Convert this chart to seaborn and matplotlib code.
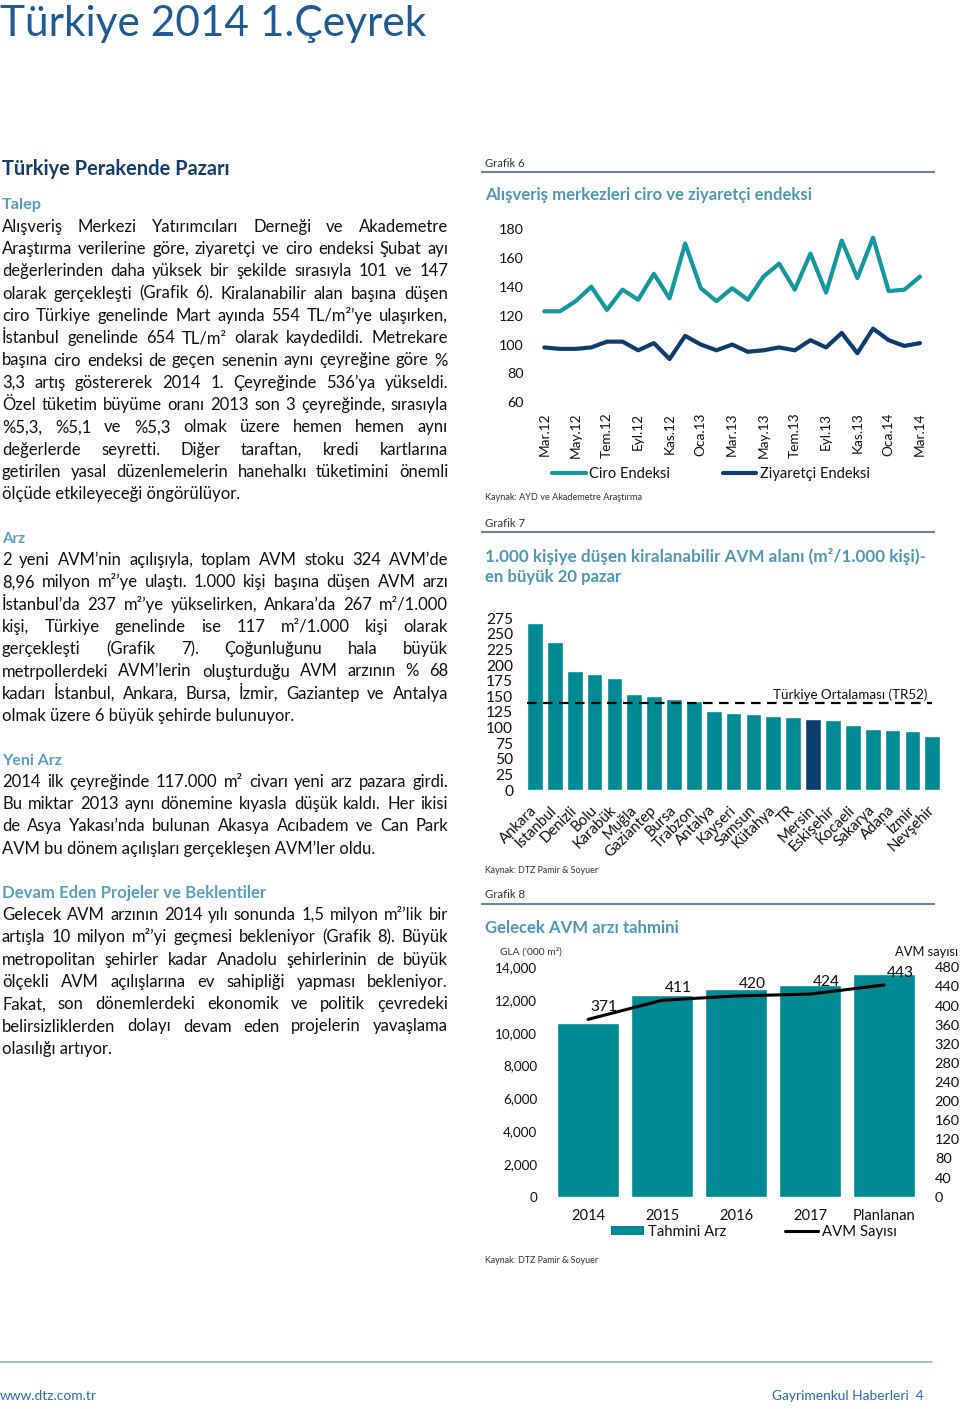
import matplotlib
matplotlib.use('Agg')
import matplotlib.pyplot as plt
from matplotlib import font_manager
from matplotlib.lines import Line2D
from matplotlib.patches import Patch
from matplotlib.ticker import FuncFormatter
import seaborn as sns
import pandas as pd

# ---------------- data ----------------
months = ["Mar.12", "Nis.12", "May.12", "Haz.12", "Tem.12", "Ağu.12", "Eyl.12", "Eki.12",
          "Kas.12", "Ara.12", "Oca.13", "Şub.13", "Mar.13", "Nis.13", "May.13", "Haz.13",
          "Tem.13", "Ağu.13", "Eyl.13", "Eki.13", "Kas.13", "Ara.13", "Oca.14", "Şub.14", "Mar.14"]
ciro = [123, 123, 130, 140, 124, 138, 131, 149, 132, 170, 139, 130, 139, 131, 147, 156,
        138, 163, 136, 172, 146, 174, 137, 138, 147]
ziyaretci = [98, 97, 97, 98, 102, 102, 96, 101, 90, 106, 100, 96, 100, 95, 96, 98,
             96, 103, 98, 108, 94, 111, 103, 99, 101]

cities = ["Ankara", "İstanbul", "Denizli", "Bolu", "Karabük", "Muğla", "Gaziantep", "Bursa",
          "Trabzon", "Antalya", "Kayseri", "Samsun", "Kütahya", "TR", "Mersin", "Eskişehir",
          "Kocaeli", "Sakarya", "Adana", "İzmir", "Nevşehir"]
area = [267, 237, 190, 186, 179, 154, 151, 146, 142, 126, 123, 121, 119, 117, 113, 112,
        104, 98, 96, 95, 86]
highlight_city = "Mersin"
tr_average = 140

years = ["2014", "2015", "2016", "2017", "Planlanan"]
gla = [10600, 12300, 12700, 12900, 13600]
avm_count = [371, 411, 420, 424, 443]

# ---------------- style ----------------
TEAL = "#008b94"
TEAL_L = "#14979d"
NAVY = "#0e3d6d"
NAVY_BAR = "#0b3c6e"
HEADER_C = "#1f5a94"
NAVY_T = "#173f6b"
SUB_C = "#5a9fc0"
TITLE_C = "#4f98b5"
GRAY = "#333333"
TXT = "#111111"

W, H = 960, 1409
sns.set_theme(style='white')
names = {f.name for f in font_manager.fontManager.ttflist}
BODY = 'Liberation Sans Narrow' if 'Liberation Sans Narrow' in names else 'Lato'
plt.rcParams['font.family'] = [BODY, 'DejaVu Sans']
plt.rcParams['text.color'] = TXT
plt.rcParams['xtick.color'] = TXT
plt.rcParams['ytick.color'] = TXT

fig = plt.figure(figsize=(W / 100, H / 100), dpi=100)
fig.patch.set_facecolor('white')
renderer = fig.canvas.get_renderer()


def fxy(x, y):
    return x / W, 1 - y / H


def twidth(s, size, **kw):
    t = fig.text(0, 0, s, fontsize=size, **kw)
    w = t.get_window_extent(renderer=renderer).width
    t.remove()
    return w


digits_w = twidth('0123456789', 10)
SC = max(0.93, (10 * 0.456 * 10 * 100 / 72) / digits_w)


def fs(n):
    return n * SC


def fit_text(x, y, s, width, maxsize, ha='left', **kw):
    size = min(maxsize, 10 * width / twidth(s, 10, **kw))
    return fig.text(*fxy(x, y), s, fontsize=size, ha=ha, va='baseline', **kw)


def hline(x0, x1, y, color, lw):
    fig.add_artist(Line2D([x0 / W, x1 / W], [1 - y / H, 1 - y / H],
                          transform=fig.transFigure, color=color, lw=lw))


# ---------------- left column text ----------------
p1 = ["Alışveriş Merkezi Yatırımcıları Derneği ve Akademetre",
      "Araştırma verilerine göre, ziyaretçi ve ciro endeksi Şubat ayı",
      "değerlerinden daha yüksek bir şekilde sırasıyla 101 ve 147",
      "olarak gerçekleşti (Grafik 6).  Kiralanabilir alan başına düşen",
      "ciro Türkiye genelinde Mart ayında 554 TL/m²’ye ulaşırken,",
      "İstanbul genelinde 654 TL/m² olarak kaydedildi.  Metrekare",
      "başına ciro endeksi de geçen senenin aynı çeyreğine göre %",
      "3,3 artış göstererek 2014 1. Çeyreğinde 536’ya yükseldi.",
      "Özel tüketim büyüme oranı 2013 son 3 çeyreğinde, sırasıyla",
      "%5,3, %5,1 ve %5,3 olmak üzere hemen hemen aynı",
      "değerlerde seyretti.  Diğer taraftan, kredi kartlarına",
      "getirilen yasal düzenlemelerin hanehalkı tüketimini önemli",
      "ölçüde etkileyeceği öngörülüyor."]
p2 = ["2 yeni AVM’nin açılışıyla, toplam AVM stoku 324 AVM’de",
      "8,96 milyon m²’ye ulaştı.  1.000 kişi başına düşen AVM arzı",
      "İstanbul’da 237 m²’ye yükselirken, Ankara’da 267 m²/1.000",
      "kişi, Türkiye genelinde ise 117 m²/1.000 kişi olarak",
      "gerçekleşti (Grafik 7).  Çoğunluğunu hala büyük",
      "metrpollerdeki AVM’lerin oluşturduğu AVM arzının % 68",
      "kadarı İstanbul, Ankara, Bursa, İzmir, Gaziantep ve Antalya",
      "olmak üzere 6 büyük şehirde bulunuyor."]
p3 = ["2014 ilk çeyreğinde 117.000 m² civarı yeni arz pazara girdi.",
      "Bu miktar 2013 aynı dönemine kıyasla düşük kaldı.  Her ikisi",
      "de Asya Yakası’nda bulunan Akasya Acıbadem ve Can Park",
      "AVM bu dönem açılışları gerçekleşen AVM’ler oldu."]
p4 = ["Gelecek AVM arzının 2014 yılı sonunda 1,5 milyon m²’lik bir",
      "artışla 10 milyon m²’yi geçmesi bekleniyor (Grafik 8).  Büyük",
      "metropolitan şehirler kadar Anadolu şehirlerinin de büyük",
      "ölçekli AVM açılışlarına ev sahipliği yapması bekleniyor.",
      "Fakat, son dönemlerdeki ekonomik ve politik çevredeki",
      "belirsizliklerden dolayı devam eden projelerin yavaşlama",
      "olasılığı artıyor."]
paras = [(p1, 231.7), (p2, 565.0), (p3, 786.7), (p4, 920.0)]
X0, X1, DY = 2, 448, 22.3

ratios = []
for lines, _ in paras:
    for line in lines[:-1]:
        ratios.append((X1 - X0) / twidth(' '.join(line.split()), 10))
bsize = min(12.0, 10 * min(ratios) * 0.99)

for lines, y0 in paras:
    for i, line in enumerate(lines):
        y = y0 + i * DY
        words = line.split()
        if i == len(lines) - 1:
            fig.text(*fxy(X0, y), ' '.join(words), fontsize=bsize, va='baseline', color=TXT)
            continue
        ws = [twidth(w, bsize) for w in words]
        gap = (X1 - X0 - sum(ws)) / (len(words) - 1)
        x = X0
        for w, wd in zip(words, ws):
            fig.text(*fxy(x, y), w, fontsize=bsize, va='baseline', color=TXT)
            x += wd + gap

fit_text(0, 36, "Türkiye 2014 1.Çeyrek", 428, 40, color=HEADER_C)
fit_text(2, 175, "Türkiye Perakende Pazarı", 228, 16, color=NAVY_T, weight='bold')
fit_text(2, 209.3, "Talep", 40, 13.5, color=SUB_C, weight='bold')
fit_text(2, 542.7, "Arz", 23, 13.5, color=SUB_C, weight='bold')
fit_text(2, 765, "Yeni Arz", 60, 13.5, color=SUB_C, weight='bold')
fit_text(2, 898.3, "Devam Eden Projeler ve Beklentiler", 266, 13.5, color=SUB_C, weight='bold')

# ---------------- right column headings ----------------
fit_text(485, 166.7, "Grafik 6", 40, 9.5, color=GRAY)
hline(482, 934, 172, "#6f8593", 1.5)
fit_text(485, 200, "Alışveriş merkezleri ciro ve ziyaretçi endeksi", 331, 13, color=TITLE_C, weight='bold')
fit_text(485, 500, "Kaynak: AYD ve Akademetre Araştırma", 157, 8, color=GRAY)

fit_text(485, 526.7, "Grafik 7", 40, 9.5, color=GRAY)
hline(482, 934, 531.7, "#6f8593", 1.5)
fit_text(485, 561.7, "1.000 kişiye düşen kiralanabilir AVM alanı (m²/1.000 kişi)-", 442, 13,
         color=TITLE_C, weight='bold')
fit_text(485, 581.7, "en büyük 20 pazar", 137, 13, color=TITLE_C, weight='bold')
fit_text(485, 873.3, "Kaynak: DTZ Pamir & Soyuer", 114, 8, color=GRAY)

fit_text(485, 898.3, "Grafik 8", 40, 9.5, color=GRAY)
hline(482, 934, 904, "#6f8593", 1.5)
fit_text(485, 933.3, "Gelecek AVM arzı tahmini", 195, 13, color=TITLE_C, weight='bold')
fit_text(500, 955, "GLA ('000 m²)", 62, 8, color=GRAY)
fit_text(958, 956, "AVM sayısı", 63, 11, ha='right', color=TXT)
fit_text(485, 1262.7, "Kaynak: DTZ Pamir & Soyuer", 114, 8, color=GRAY)

# footer
hline(0, 932, 1362, "#8fb3bb", 1.2)
fit_text(0, 1400, "www.dtz.com.tr", 97, 10, color="#2b6cb0")
fit_text(924, 1400, "Gayrimenkul Haberleri  4", 152, 10, ha='right', color="#2b6cb0")


def add_ax(l, t, r, b):
    ax = fig.add_axes([l / W, 1 - b / H, (r - l) / W, (b - t) / H])
    ax.patch.set_alpha(0)
    for s in ax.spines.values():
        s.set_visible(False)
    return ax


# ---------------- Grafik 6 ----------------
ax6 = add_ax(530.2, 229, 929.4, 402.3)
df6 = pd.DataFrame({'i': range(len(months)), 'ciro': ciro, 'ziy': ziyaretci})
sns.lineplot(data=df6, x='i', y='ciro', ax=ax6, color=TEAL_L, linewidth=3)
sns.lineplot(data=df6, x='i', y='ziy', ax=ax6, color=NAVY, linewidth=3)
ax6.set_xlim(-0.9, 24.6)
ax6.set_ylim(60, 180)
ax6.set_yticks(range(60, 181, 20))
ax6.set_xticks(range(0, len(months), 2))
ax6.set_xticklabels(months[::2], rotation=90)
ax6.tick_params(axis='x', length=0, pad=7.5, labelsize=fs(10.6))
ax6.tick_params(axis='y', length=0, pad=5, labelsize=fs(11))
ax6.set_xlabel('')
ax6.set_ylabel('')
ax6.grid(False)

h6 = [Line2D([], [], color=TEAL_L, lw=3), Line2D([], [], color=NAVY, lw=3)]
fig.legend(h6, ['Ciro Endeksi', 'Ziyaretçi Endeksi'], loc='center',
           bbox_to_anchor=fxy(711, 474.3), bbox_transform=fig.transFigure, ncol=2,
           frameon=False, fontsize=fs(11.3), handlelength=2.3, handletextpad=0.25,
           columnspacing=3.6, borderpad=0, borderaxespad=0)

# ---------------- Grafik 7 ----------------
ax7 = add_ax(523, 615.2, 944.2, 790)
df7 = pd.DataFrame({'city': cities, 'area': area})
pal7 = {c: (NAVY_BAR if c == highlight_city else TEAL) for c in cities}
sns.barplot(data=df7, x='city', y='area', hue='city', palette=pal7, width=0.79,
            saturation=1, legend=False, ax=ax7)
ax7.plot([-0.4, len(cities) - 1], [tr_average, tr_average], color='black', lw=1.6,
         ls=(0, (4.3, 2.9)))
ax7.set_xlim(-0.6, 20.6)
ax7.set_ylim(0, 280)
ax7.set_yticks(range(0, 276, 25))
ax7.tick_params(axis='y', length=0, pad=7, labelsize=fs(12))
ax7.tick_params(axis='x', length=0, pad=13, labelsize=fs(11.5))
plt.setp(ax7.get_xticklabels(), rotation=45, ha='right', va='center', rotation_mode='anchor')
ax7.set_xlabel('')
ax7.set_ylabel('')
ax7.grid(False)
fit_text(927, 699.3, "Türkiye Ortalaması (TR52)", 154, 12, ha='right', color=TXT)

# ---------------- Grafik 8 ----------------
ax8 = add_ax(540, 967.3, 932, 1196.7)
df8 = pd.DataFrame({'year': years, 'gla': gla, 'i': range(len(years)), 'avm': avm_count})
sns.barplot(data=df8, x='year', y='gla', color=TEAL, width=0.83, saturation=1, ax=ax8)
ax8.set_ylim(0, 14000)
ax8.set_yticks(range(0, 14001, 2000))
ax8.yaxis.set_major_formatter(FuncFormatter(lambda v, p: f"{int(v):,}"))
ax8.tick_params(axis='y', length=0, pad=2, labelsize=fs(10.5))
ax8.tick_params(axis='x', length=0, pad=9, labelsize=fs(11.4))
ax8.set_xlabel('')
ax8.set_ylabel('')
ax8.grid(False)

ax8b = ax8.twinx()
for s in ax8b.spines.values():
    s.set_visible(False)
sns.lineplot(data=df8, x='i', y='avm', color='black', linewidth=2.2, ax=ax8b)
ax8b.set_ylim(0, 480)
ax8b.set_yticks(range(0, 481, 40))
ax8b.tick_params(axis='y', length=0, pad=2, labelsize=fs(11.2))
ax8b.set_xlabel('')
ax8b.set_ylabel('')
ax8b.grid(False)
ax8.set_xlim(-0.65, 4.65)
for i, v in enumerate(avm_count):
    ax8b.annotate(str(v), (i, v), xytext=(11.5, 8.6), textcoords='offset points',
                  ha='center', va='center', fontsize=fs(12), color=TXT)

h8 = [Patch(facecolor=TEAL, edgecolor='none'), Line2D([], [], color='black', lw=2.2)]
fig.legend(h8, ['Tahmini Arz', 'AVM Sayısı'], loc='center',
           bbox_to_anchor=fxy(754, 1231.7), bbox_transform=fig.transFigure, ncol=2,
           frameon=False, fontsize=fs(11.5), handlelength=2.2, handleheight=0.6,
           handletextpad=0.25, columnspacing=4.0, borderpad=0, borderaxespad=0)

fig.savefig('out.png', dpi=100, facecolor='white')
